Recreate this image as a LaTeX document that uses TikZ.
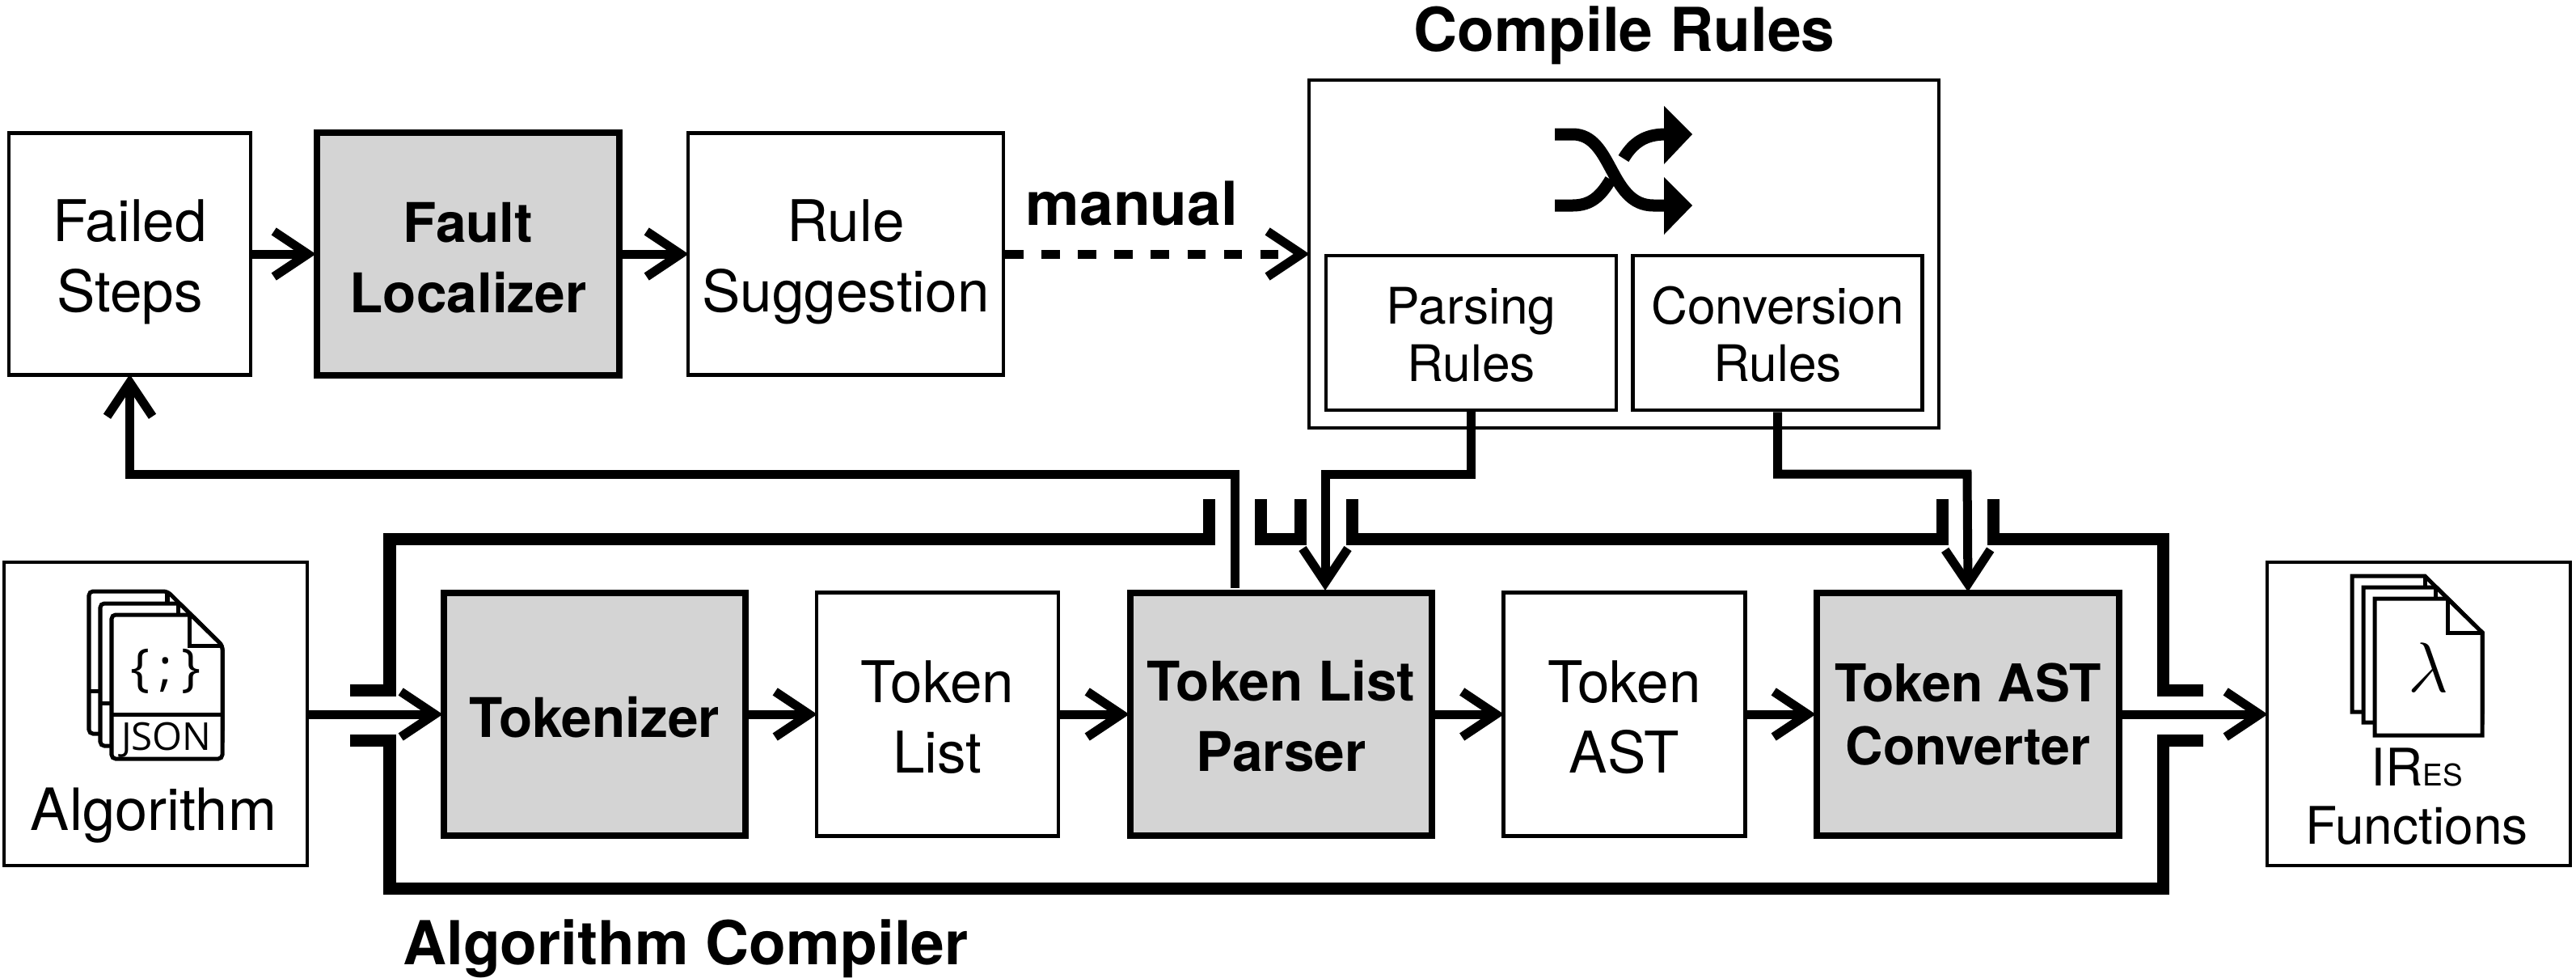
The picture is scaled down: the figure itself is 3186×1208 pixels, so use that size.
\documentclass[tikz,border=0pt]{standalone}
\usepackage{fontspec}
\setmainfont{TeX Gyre Heros}
\newfontfamily\iconfont{Open Sans}
\usetikzlibrary{arrows.meta}

% taller first line, pushes a label down inside its box
\newcommand{\droplabel}[1]{\rule{0pt}{#1}}

\tikzset{
  plainbox/.style={draw=black, line width=0.045cm, fill=white, align=center, inner sep=0pt,
    font=\fontsize{20.2}{24.7}\selectfont},
  stagebox/.style={plainbox, line width=0.085cm, fill=black!17, font=\fontsize{19.2}{24.7}\selectfont\bfseries},
  rulebox/.style={plainbox, font=\fontsize{17.7}{20.2}\selectfont},
  conn/.style={line width=0.11cm, shorten >=-0.03cm, -{Straight Barb[length=0.42cm,width=0.56cm]}},
  frame/.style={line width=0.15cm},
  title/.style={anchor=base, inner sep=0pt, font=\fontsize{21.3}{25}\selectfont\bfseries},
  doc/.style={line width=0.05cm, fill=white}
}

\begin{document}
\begin{tikzpicture}[x=0.01cm,y=-0.01cm]
    \useasboundingbox (0,0) rectangle (3186,1208);

    % top row
    \node[plainbox, minimum width=2.99cm, minimum height=2.99cm] (failed) at (160.5,314) {\droplabel{0.71cm}Failed\\Steps};
    \node[stagebox, minimum width=3.74cm, minimum height=3.00cm] (fault) at (579,314) {\droplabel{0.58cm}Fault\\Localizer};
    \node[plainbox, minimum width=3.90cm, minimum height=2.99cm] (suggest) at (1046,314) {\droplabel{0.71cm}Rule\\Suggestion};

    \node[plainbox, minimum width=7.79cm, minimum height=4.30cm] (compile) at (2008.5,314) {};
    \node[title] (compiletitle) at (2009,63) {Compile Rules};
    \node[rulebox, minimum width=3.59cm, minimum height=1.91cm] (parsing) at (1819.5,411.5) {\droplabel{0.49cm}Parsing\\Rules};
    \node[rulebox, minimum width=3.58cm, minimum height=1.91cm] (conversion) at (2198.5,411.5) {\droplabel{0.49cm}Conversion\\Rules};

    \draw[conn] (failed) -- (fault);
    \draw[conn] (fault) -- (suggest);
    \draw[conn, dashed, dash pattern=on 0.225cm off 0.225cm] (suggest) -- (compile.west |- suggest);
    \node[title] (manuallabel) at (1400,278) {manual};

    % shuffle sign
    \draw[line width=0.15cm] (1923,254) -- (1945,254) .. controls (1968,254) and (1980,242) .. (1992,222);
    \draw[line width=0.15cm] (2008,196) .. controls (2020,176) and (2035,166) .. (2060,166);
    \draw[line width=0.15cm] (1923,166) -- (1945,166) .. controls (1995,166) and (1990,254) .. (2045,254) -- (2060,254);
    \fill (2058,131) -- (2093,166) -- (2058,203) -- cycle;
    \fill (2058,219) -- (2093,254) -- (2058,290) -- cycle;

    % bottom row
    \node[plainbox, minimum width=3.75cm, minimum height=3.75cm] (algorithm) at (192.5,882.5) {};
    \node[stagebox, minimum width=3.73cm, minimum height=3.00cm] (tokenizer) at (735.5,883) {\droplabel{0.57cm}Tokenizer};
    \node[plainbox, minimum width=2.99cm, minimum height=3.01cm] (tokenlist) at (1159.5,883) {\droplabel{0.59cm}Token\\List};
    \node[stagebox, minimum width=3.73cm, minimum height=3.00cm] (parser) at (1584.5,883) {\droplabel{0.55cm}Token List\\Parser};
    \node[plainbox, minimum width=2.99cm, minimum height=3.01cm] (tokenast) at (2009,883) {\droplabel{0.59cm}Token\\AST};
    \node[stagebox, font=\fontsize{18.3}{22.4}\selectfont\bfseries, minimum width=3.74cm, minimum height=3.00cm] (converter) at (2434,883) {Token AST\\Converter};
    \node[plainbox, minimum width=3.75cm, minimum height=3.75cm] (functions) at (2991.5,882.5) {};

    \draw[conn] (algorithm.east |- tokenizer) -- (tokenizer);
    \draw[conn] (tokenizer) -- (tokenlist);
    \draw[conn] (tokenlist) -- (parser);
    \draw[conn] (parser) -- (tokenast);
    \draw[conn] (tokenast) -- (converter);
    \draw[conn] (converter) -- (functions.west |- converter);

    % rule wires and feedback
    \coordinate (parsingbend) at (1639,586);
    \coordinate (parserin) at (1639,727);
    \coordinate (conversionbend) at (2433,586);
    \coordinate (parserout) at (1527,727);
    \coordinate (feedbackbend) at (1527,586);
    \draw[conn] (parsing.south) |- (parsingbend) -- (parserin);
    \draw[conn] (conversion.south) |- (conversionbend) -- (converter.north);
    \draw[conn] (parserout) -- (feedbackbend) -| (failed.south);

    % compiler frame
    \draw[frame] (433,853) -- (482,853) -- (482,666) -- (1495,666) -- (1495,617);
    \draw[frame] (1559,617) -- (1559,666) -- (1608,666) -- (1608,617);
    \draw[frame] (1672,617) -- (1672,666) -- (2402,666) -- (2402,617);
    \draw[frame] (2465,617) -- (2465,666) -- (2675,666) -- (2675,853) -- (2725,853);
    \draw[frame] (433,915) -- (482,915) -- (482,1098) -- (2675,1098) -- (2675,915) -- (2725,915);
    \node[title] (compilerlabel) at (848,1192) {Algorithm Compiler};

    % json pages
    \begin{scope}[rounded corners=0.05cm]
      \draw[doc] (110,731) -- (207,731) -- (275,798) -- (275,907) -- (110,907) -- cycle;
      \draw[doc] (124,746) -- (222,746) -- (275,798) -- (275,922) -- (124,922) -- cycle;
      \draw[doc] (138,760) -- (236,760) -- (275,798) -- (275,938) -- (138,938) -- cycle;
    \end{scope}
    \draw[doc] (207,731) -- (207,746);
    \draw[doc] (220,746) -- (220,760);
    \draw[doc, fill=none] (234,760) -- (234,798) -- (275,798);
    \draw[doc] (110,854) -- (124,854);
    \draw[doc] (124,869) -- (138,869);
    \draw[doc] (138,883) -- (275,883);
    \node[inner sep=0pt, font=\iconfont\fontsize{18}{20}\selectfont] (jsonsign) at (205,830) {\{\hspace{0.17em};\hspace{0.17em}\}};
    \node[anchor=base, inner sep=0pt, font=\iconfont\fontsize{13.5}{16}\selectfont] (jsonname) at (206,927) {JSON};
    \node[anchor=base, inner sep=0pt, font=\fontsize{20.5}{24}\selectfont] (algorithmlabel) at (190,1026) {Algorithm};

    % lambda pages
    \draw[doc] (2909,712) -- (2999,712) -- (3070,782) -- (3070,880) -- (2909,880) -- cycle;
    \draw[doc] (2923,726) -- (3013,726) -- (3070,782) -- (3070,893) -- (2923,893) -- cycle;
    \draw[doc] (2937,740) -- (3027,740) -- (3070,782) -- (3070,909) -- (2937,909) -- cycle;
    \draw[doc] (2999,712) -- (2999,726);
    \draw[doc] (3012,726) -- (3012,740);
    \draw[doc, fill=none] (3027,740) -- (3027,782) -- (3070,782);
    \node[inner sep=0pt, font=\fontsize{30}{30}\selectfont] (lambdasign) at (3003,825) {$\lambda$};
    \node[inner sep=0pt, align=center, font=\fontsize{18.2}{20.4}\selectfont] (functionslabel) at (2989,985) {IR{\fontsize{10.5}{12}\selectfont ES}\\Functions};
\end{tikzpicture}
\end{document}
